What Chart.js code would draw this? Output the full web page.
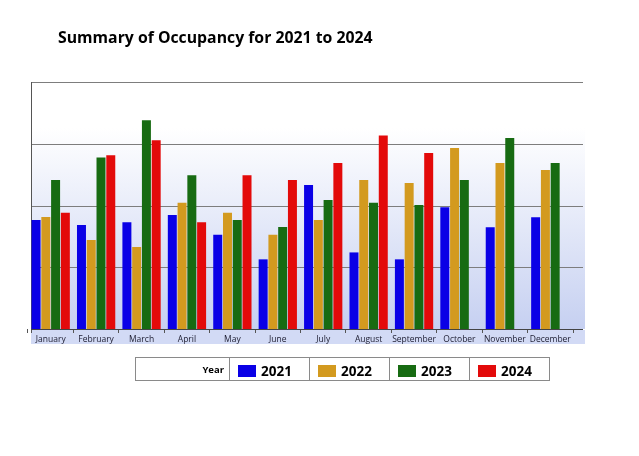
<!DOCTYPE html>
<html>
<head>
<meta charset="utf-8">
<script src="https://cdn.jsdelivr.net/npm/chart.js@4.4.1/dist/chart.umd.min.js"></script>
<style>
  html, body { margin: 0; padding: 0; background: #fff; }
  #wrap { position: relative; width: 639px; height: 456px; overflow: hidden; }
  #myChart { position: absolute; left: 0; top: 0; }
  #title {
    position: absolute; left: 58px; top: 26px; line-height: 22px;
    font: bold 15.8px "Open Sans", sans-serif; color: #000;
  }
  #legend {
    position: absolute; left: 135px; top: 357px; border-collapse: collapse;
    border: 1px solid #8a8a8a; height: 24px;
    font-family: "Open Sans", sans-serif; font-weight: bold;
  }
  #legend td { border-left: 1px solid #8a8a8a; padding: 0; width: 79px; height: 22px; white-space: nowrap; }
  #legend td.head { width: 88px; text-align: right; padding-right: 5px; font-size: 9.5px; border-left: none; }
  #legend .sw { display: inline-block; width: 18px; height: 12px; vertical-align: middle; margin: 0 5px 0 8px; }
  #legend .yr { font-size: 13.5px; vertical-align: middle; }
</style>
</head>
<body>
<div id="wrap">
  <canvas id="myChart" width="639" height="456"></canvas>
  <div id="title">Summary of Occupancy for 2021 to 2024</div>
  <table id="legend"><tr id="legendRow"><td class="head">Year</td></tr></table>
</div>
<script>
const months = ['January', 'February', 'March', 'April', 'May', 'June',
  'July', 'August', 'September', 'October', 'November', 'December'];
const years = ['2021', '2022', '2023', '2024'];
const y2021 = [44.1, 42.1, 43.2, 46.2, 38.2, 28.2, 58.3, 31.0, 28.2, 49.3, 41.2, 45.2];
const y2022 = [45.3, 36.0, 33.2, 51.1, 47.1, 38.2, 44.1, 60.3, 59.1, 73.3, 67.2, 64.4];
const y2023 = [60.3, 69.4, 84.5, 62.2, 44.1, 41.3, 52.2, 51.1, 50.2, 60.3, 77.3, 67.2];
const y2024 = [47.1, 70.3, 76.4, 43.2, 62.2, 60.3, 67.2, 78.3, 71.3, null, null, null];
const yTicks = [0, 25, 50, 75, 100];
const colors = ['#0a00e6', '#d39a1f', '#176b12', '#e30a0a'];

// background, grid and axis band drawn behind the bars
const backdrop = {
  id: 'backdrop',
  beforeDraw(chart) {
    const ctx = chart.ctx;
    const area = chart.chartArea;
    const yScale = chart.scales.y;
    const left = 31, right = 583;
    ctx.save();
    const gTop = 128;
    const grad = ctx.createLinearGradient(0, gTop, 0, area.bottom);
    grad.addColorStop(0, '#ffffff');
    grad.addColorStop(1, '#c6d0f1');
    ctx.fillStyle = grad;
    ctx.fillRect(left, gTop, right + 2 - left, area.bottom - gTop);
    // x label band
    ctx.fillStyle = '#d2daf5';
    ctx.fillRect(left, area.bottom + 1, right + 2 - left, 14);
    // horizontal grid
    ctx.strokeStyle = '#7d7d7d';
    ctx.lineWidth = 1;
    yTicks.forEach(v => {
      const y = Math.round(yScale.getPixelForValue(v)) + 0.5;
      ctx.beginPath();
      ctx.moveTo(left, y);
      ctx.lineTo(right, y);
      ctx.stroke();
    });
    // left axis
    ctx.strokeStyle = '#555';
    ctx.beginPath();
    ctx.moveTo(left + 0.5, Math.round(yScale.getPixelForValue(100)));
    ctx.lineTo(left + 0.5, area.bottom + 4);
    ctx.stroke();
    ctx.restore();
  },
  afterDatasetsDraw(chart) {
    const ctx = chart.ctx;
    const y = Math.round(chart.scales.y.getPixelForValue(0)) + 0.5;
    ctx.save();
    ctx.strokeStyle = '#444';
    ctx.beginPath();
    ctx.moveTo(31, y);
    ctx.lineTo(583, y);
    ctx.stroke();
    ctx.restore();
  }
};

const series = [y2021, y2022, y2023, y2024];
const ctx = document.getElementById('myChart').getContext('2d');

new Chart(ctx, {
  type: 'bar',
  data: {
    labels: months,
    datasets: series.map((d, i) => ({
      label: years[i],
      data: d,
      backgroundColor: colors[i],
      borderWidth: 0,
      categoryPercentage: 0.86,
      barPercentage: 0.92
    }))
  },
  options: {
    responsive: false,
    animation: false,
    layout: { padding: { left: 28, right: 66, top: 82, bottom: 112 } },
    plugins: { legend: { display: false }, title: { display: false }, tooltip: { enabled: false } },
    scales: {
      y: { display: false, min: 0, max: 100 },
      x: {
        afterFit: s => { s.height = 15; },
        border: { display: false },
        grid: { display: true, drawOnChartArea: false, drawTicks: true, tickLength: 4, color: '#555', offset: true },
        ticks: { padding: 1, maxRotation: 0, autoSkip: false, color: '#1c1c30',
          font: { family: 'Open Sans', size: 8.5 } }
      }
    }
  },
  plugins: [backdrop]
});

// legend row built from the year list
const row = document.getElementById('legendRow');
years.forEach((yr, i) => {
  const td = document.createElement('td');
  td.innerHTML = '<span class="sw" style="background:' + colors[i] + '"></span><span class="yr">' + yr + '</span>';
  row.appendChild(td);
});
</script>
</body>
</html>
